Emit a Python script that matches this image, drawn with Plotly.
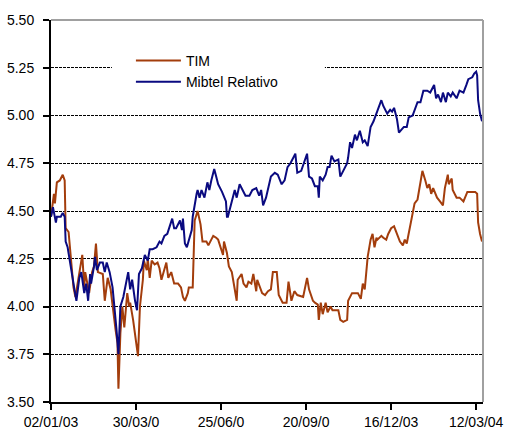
import pandas as pd
import plotly.graph_objects as go

# Day offsets from 02/01/2003 and values
tim_days = [0, 3, 4, 6, 9, 12, 14, 15, 18, 20, 23, 25, 29, 32, 34, 35, 39, 42, 44, 46, 48, 53, 55, 58, 61, 63, 66, 68, 69, 71,
            73, 75, 78, 80, 81, 84, 89, 91, 94, 95, 98, 99, 101, 103, 106, 109, 111, 113, 116, 118, 120, 123, 126, 130, 133,
            135, 137, 140, 141, 145, 147, 149, 150, 153, 155, 159, 161, 164, 166, 169, 171, 176, 177, 180, 182, 185, 187, 190,
            191, 195, 197, 200, 202, 205, 207, 210, 211, 216, 219, 222, 225, 227, 231, 233, 237, 241, 243, 246, 249, 252, 258,
            262, 264, 268, 270, 273, 274, 276, 278, 281, 283, 286, 288, 294, 296, 299, 303, 304, 308, 311, 314, 317, 319, 321,
            323, 324, 327, 329, 331, 333, 334, 338, 340, 343, 345, 348, 351, 355, 357, 360, 362, 364, 368, 372, 375, 378, 380,
            383, 385, 387, 389, 391, 395, 398, 401, 403, 406, 407, 410, 411, 415, 418, 422, 426, 429, 434, 436, 437, 439, 441]
tim_vals = [4.47, 4.59, 4.54, 4.65, 4.66, 4.69, 4.66, 4.41, 4.39, 4.26, 4.10, 4.05, 4.19, 4.27, 4.10, 4.18, 4.07, 4.18, 4.21,
            4.33, 4.18, 4.17, 4.03, 4.15, 4.09, 4.00, 3.88, 3.81, 3.57, 3.86, 4.00, 3.89, 4.07, 4.00, 4.02, 3.93, 3.74, 4.00,
            4.14, 4.24, 4.19, 4.25, 4.15, 4.24, 4.22, 4.23, 4.20, 4.14, 4.20, 4.23, 4.15, 4.18, 4.12, 4.12, 4.10, 4.05, 4.03,
            4.07, 4.10, 4.10, 4.45, 4.49, 4.50, 4.43, 4.34, 4.34, 4.32, 4.35, 4.37, 4.36, 4.35, 4.27, 4.34, 4.28, 4.21, 4.18,
            4.11, 4.03, 4.14, 4.17, 4.12, 4.10, 4.13, 4.12, 4.17, 4.08, 4.14, 4.07, 4.06, 4.08, 4.09, 4.18, 4.18, 4.06, 4.02,
            4.02, 4.13, 4.03, 4.08, 4.06, 4.05, 4.15, 4.09, 4.03, 4.02, 4.01, 3.93, 4.02, 3.96, 4.02, 3.97, 4.00, 3.98, 3.98,
            3.93, 3.92, 3.93, 4.03, 4.07, 4.07, 4.07, 4.04, 4.12, 4.09, 4.23, 4.26, 4.35, 4.38, 4.31, 4.36, 4.35, 4.37, 4.36,
            4.35, 4.38, 4.41, 4.42, 4.37, 4.34, 4.32, 4.35, 4.33, 4.44, 4.54, 4.56, 4.64, 4.71, 4.66, 4.62, 4.64, 4.59, 4.62,
            4.57, 4.55, 4.53, 4.62, 4.69, 4.64, 4.67, 4.61, 4.57, 4.57, 4.55, 4.60, 4.60, 4.60, 4.59, 4.44, 4.38, 4.34]

mib_days = [0, 2, 5, 6, 10, 12, 14, 15, 17, 20, 21, 24, 26, 29, 31, 34, 36, 38, 40, 41, 44, 45, 47, 50, 53, 55, 57, 60, 63,
            65, 67, 69, 71, 74, 76, 79, 81, 83, 86, 88, 90, 91, 93, 96, 99, 101, 104, 108, 111, 113, 116, 119, 121, 124, 126,
            128, 132, 134, 135, 137, 139, 142, 144, 145, 147, 149, 150, 152, 154, 157, 160, 162, 164, 167, 169, 171, 175, 179,
            180, 181, 183, 185, 188, 190, 193, 196, 199, 203, 206, 210, 213, 215, 217, 220, 222, 225, 229, 232, 236, 239, 242,
            245, 250, 252, 256, 262, 264, 267, 270, 273, 274, 275, 278, 281, 283, 285, 287, 290, 294, 296, 299, 303, 304, 306,
            308, 311, 313, 316, 319, 321, 324, 327, 330, 333, 336, 338, 340, 344, 347, 349, 351, 354, 356, 359, 361, 364, 366,
            370, 372, 375, 378, 381, 385, 388, 392, 394, 396, 399, 401, 404, 406, 409, 411, 415, 418, 422, 425, 427, 431, 433,
            435, 436, 437, 439, 441]
mib_vals = [4.47, 4.52, 4.44, 4.47, 4.47, 4.49, 4.47, 4.34, 4.31, 4.21, 4.17, 4.09, 4.03, 4.15, 4.18, 4.07, 4.12, 4.03, 4.17,
            4.12, 4.21, 4.26, 4.19, 4.23, 4.23, 4.18, 4.23, 4.18, 4.10, 4.00, 3.88, 3.75, 4.00, 4.05, 4.10, 4.18, 4.09, 4.14,
            4.03, 3.98, 4.17, 4.18, 4.20, 4.27, 4.24, 4.30, 4.30, 4.31, 4.34, 4.33, 4.37, 4.38, 4.41, 4.46, 4.41, 4.41, 4.45,
            4.40, 4.46, 4.33, 4.31, 4.37, 4.40, 4.47, 4.54, 4.59, 4.61, 4.57, 4.61, 4.57, 4.65, 4.61, 4.66, 4.72, 4.68, 4.64,
            4.60, 4.55, 4.47, 4.47, 4.51, 4.55, 4.61, 4.57, 4.64, 4.61, 4.58, 4.58, 4.61, 4.62, 4.58, 4.61, 4.53, 4.57, 4.62,
            4.68, 4.70, 4.69, 4.64, 4.66, 4.73, 4.75, 4.80, 4.70, 4.71, 4.80, 4.68, 4.67, 4.63, 4.63, 4.57, 4.68, 4.66, 4.69,
            4.73, 4.73, 4.79, 4.76, 4.77, 4.68, 4.71, 4.75, 4.78, 4.86, 4.83, 4.90, 4.87, 4.92, 4.86, 4.87, 4.84, 4.94, 4.97,
            5.01, 5.05, 5.08, 5.05, 5.01, 5.03, 5.02, 5.04, 4.98, 4.91, 4.93, 4.94, 4.94, 4.99, 5.00, 5.03, 5.07, 5.07, 5.13,
            5.13, 5.12, 5.16, 5.09, 5.11, 5.07, 5.12, 5.07, 5.12, 5.10, 5.12, 5.09, 5.13, 5.12, 5.16, 5.19, 5.20, 5.22, 5.23,
            5.21, 5.08, 5.01, 4.97]

start_date = pd.Timestamp("2003-01-02")
end_date = pd.Timestamp("2004-03-19")
tick_dates = ["2003-01-02", "2003-03-30", "2003-06-25", "2003-09-20", "2003-12-16", "2004-03-12"]
tick_labels = ["02/01/03", "30/03/0", "25/06/0", "20/09/0", "16/12/03", "12/03/04"]
y_ticks = [3.50, 3.75, 4.00, 4.25, 4.50, 4.75, 5.00, 5.25, 5.50]

tim_x = start_date + pd.to_timedelta(tim_days, unit="D")
mib_x = start_date + pd.to_timedelta(mib_days, unit="D")

fig = go.Figure()
fig.add_trace(go.Scatter(x=tim_x, y=tim_vals, mode="lines", name="TIM",
                         line=dict(color="#A33D0C", width=2)))
fig.add_trace(go.Scatter(x=mib_x, y=mib_vals, mode="lines", name="Mibtel Relativo",
                         line=dict(color="#0A0A80", width=2)))

font = "Liberation Sans, Arial, sans-serif"
fig.update_layout(
    width=506, height=432,
    margin=dict(l=51, r=23, t=20, b=30, autoexpand=False),
    paper_bgcolor="white", plot_bgcolor="white",
    font=dict(family=font, size=14, color="black"),
    showlegend=True,
    legend=dict(x=0.185, y=0.935, xanchor="left", yanchor="top",
                bgcolor="white", borderwidth=0, font=dict(size=14),
                tracegroupgap=0, itemwidth=45),
    xaxis=dict(type="date", range=[start_date, end_date], automargin=False,
               tickvals=tick_dates, ticktext=tick_labels,
               showgrid=False, zeroline=False,
               showline=True, linecolor="black", linewidth=2,
               ticks="outside", ticklen=6, tickwidth=2, tickcolor="black",
               tickfont=dict(size=14)),
    yaxis=dict(range=[3.5, 5.5], tickvals=y_ticks, tickformat=".2f", automargin=False,
               showgrid=True, gridcolor="black", gridwidth=1.2, griddash="3px,1px",
               zeroline=False, showline=True, linecolor="black", linewidth=2,
               ticks="outside", ticklen=6, tickwidth=2, tickcolor="black",
               ticklabelstandoff=6, tickfont=dict(size=14)),
    shapes=[
        # white backdrop behind the legend (hides the gridline there, as in the original)
        dict(type="rect", xref="paper", yref="paper", x0=0.141, x1=0.634, y0=0.81, y1=0.93,
             fillcolor="white", line=dict(width=0), layer="above"),
        dict(type="line", xref="paper", yref="paper", x0=0, x1=1, y0=1, y1=1,
             line=dict(color="#A0A0A0", width=2), layer="above"),
        dict(type="line", xref="paper", yref="paper", x0=1, x1=1, y0=0, y1=1,
             line=dict(color="#A0A0A0", width=2), layer="above"),
    ],
)

fig.write_html("out.html", config={"displayModeBar": False},
               post_script="document.body.style.margin='0';")
